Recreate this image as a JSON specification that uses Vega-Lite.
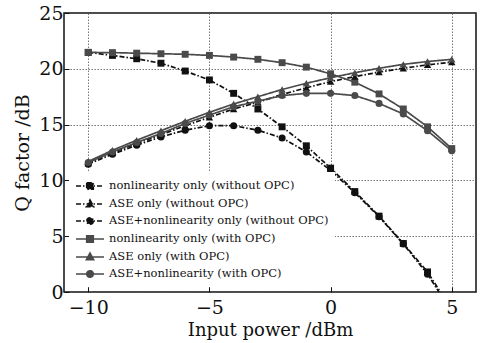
{
  "$schema": "https://vega.github.io/schema/vega-lite/v6.json",
  "autosize": "none",
  "width": 412,
  "height": 279,
  "padding": {"left": 64, "top": 13, "right": 9, "bottom": 51},
  "background": "white",
  "config": {
    "view": {"stroke": "#111", "strokeWidth": 1.5},
    "font": "DejaVu Serif",
    "axis": {
      "labelFont": "DejaVu Serif",
      "titleFont": "DejaVu Serif",
      "labelColor": "#111",
      "titleColor": "#111",
      "labelFontSize": 19,
      "titleFontSize": 18,
      "titleFontWeight": "normal",
      "domain": false,
      "tickColor": "#111",
      "tickSize": -5,
      "tickWidth": 1,
      "gridColor": "#555",
      "gridDash": [1.5, 1.5],
      "gridWidth": 0.8,
      "gridOpacity": 1
    }
  },
  "data": {
    "values": [
      {"x": -10, "q": 21.47, "series": "nonlinearity only (without OPC)"},
      {"x": -9, "q": 21.2, "series": "nonlinearity only (without OPC)"},
      {"x": -8, "q": 20.9, "series": "nonlinearity only (without OPC)"},
      {"x": -7, "q": 20.5, "series": "nonlinearity only (without OPC)"},
      {"x": -6, "q": 19.8, "series": "nonlinearity only (without OPC)"},
      {"x": -5, "q": 19.0, "series": "nonlinearity only (without OPC)"},
      {"x": -4, "q": 17.8, "series": "nonlinearity only (without OPC)"},
      {"x": -3, "q": 16.4, "series": "nonlinearity only (without OPC)"},
      {"x": -2, "q": 14.8, "series": "nonlinearity only (without OPC)"},
      {"x": -1, "q": 13.1, "series": "nonlinearity only (without OPC)"},
      {"x": 0, "q": 11.1, "series": "nonlinearity only (without OPC)"},
      {"x": 1, "q": 9.0, "series": "nonlinearity only (without OPC)"},
      {"x": 2, "q": 6.8, "series": "nonlinearity only (without OPC)"},
      {"x": 3, "q": 4.35, "series": "nonlinearity only (without OPC)"},
      {"x": 4, "q": 1.8, "series": "nonlinearity only (without OPC)"},
      {"x": 5, "q": -1.6, "series": "nonlinearity only (without OPC)"},

      {"x": -10, "q": 11.56, "series": "ASE only (without OPC)"},
      {"x": -9, "q": 12.5, "series": "ASE only (without OPC)"},
      {"x": -8, "q": 13.3, "series": "ASE only (without OPC)"},
      {"x": -7, "q": 14.1, "series": "ASE only (without OPC)"},
      {"x": -6, "q": 14.9, "series": "ASE only (without OPC)"},
      {"x": -5, "q": 15.65, "series": "ASE only (without OPC)"},
      {"x": -4, "q": 16.4, "series": "ASE only (without OPC)"},
      {"x": -3, "q": 17.0, "series": "ASE only (without OPC)"},
      {"x": -2, "q": 17.7, "series": "ASE only (without OPC)"},
      {"x": -1, "q": 18.3, "series": "ASE only (without OPC)"},
      {"x": 0, "q": 18.85, "series": "ASE only (without OPC)"},
      {"x": 1, "q": 19.3, "series": "ASE only (without OPC)"},
      {"x": 2, "q": 19.7, "series": "ASE only (without OPC)"},
      {"x": 3, "q": 20.05, "series": "ASE only (without OPC)"},
      {"x": 4, "q": 20.35, "series": "ASE only (without OPC)"},
      {"x": 5, "q": 20.6, "series": "ASE only (without OPC)"},

      {"x": -10, "q": 11.45, "series": "ASE+nonlinearity only (without OPC)"},
      {"x": -9, "q": 12.35, "series": "ASE+nonlinearity only (without OPC)"},
      {"x": -8, "q": 13.15, "series": "ASE+nonlinearity only (without OPC)"},
      {"x": -7, "q": 13.9, "series": "ASE+nonlinearity only (without OPC)"},
      {"x": -6, "q": 14.5, "series": "ASE+nonlinearity only (without OPC)"},
      {"x": -5, "q": 14.9, "series": "ASE+nonlinearity only (without OPC)"},
      {"x": -4, "q": 14.9, "series": "ASE+nonlinearity only (without OPC)"},
      {"x": -3, "q": 14.5, "series": "ASE+nonlinearity only (without OPC)"},
      {"x": -2, "q": 13.8, "series": "ASE+nonlinearity only (without OPC)"},
      {"x": -1, "q": 12.55, "series": "ASE+nonlinearity only (without OPC)"},
      {"x": 0, "q": 10.9, "series": "ASE+nonlinearity only (without OPC)"},
      {"x": 1, "q": 8.9, "series": "ASE+nonlinearity only (without OPC)"},
      {"x": 2, "q": 6.75, "series": "ASE+nonlinearity only (without OPC)"},
      {"x": 3, "q": 4.3, "series": "ASE+nonlinearity only (without OPC)"},
      {"x": 4, "q": 1.6, "series": "ASE+nonlinearity only (without OPC)"},
      {"x": 5, "q": -1.8, "series": "ASE+nonlinearity only (without OPC)"},

      {"x": -10, "q": 21.47, "series": "nonlinearity only (with OPC)"},
      {"x": -9, "q": 21.45, "series": "nonlinearity only (with OPC)"},
      {"x": -8, "q": 21.4, "series": "nonlinearity only (with OPC)"},
      {"x": -7, "q": 21.35, "series": "nonlinearity only (with OPC)"},
      {"x": -6, "q": 21.3, "series": "nonlinearity only (with OPC)"},
      {"x": -5, "q": 21.2, "series": "nonlinearity only (with OPC)"},
      {"x": -4, "q": 21.05, "series": "nonlinearity only (with OPC)"},
      {"x": -3, "q": 20.85, "series": "nonlinearity only (with OPC)"},
      {"x": -2, "q": 20.55, "series": "nonlinearity only (with OPC)"},
      {"x": -1, "q": 20.15, "series": "nonlinearity only (with OPC)"},
      {"x": 0, "q": 19.55, "series": "nonlinearity only (with OPC)"},
      {"x": 1, "q": 18.8, "series": "nonlinearity only (with OPC)"},
      {"x": 2, "q": 17.75, "series": "nonlinearity only (with OPC)"},
      {"x": 3, "q": 16.4, "series": "nonlinearity only (with OPC)"},
      {"x": 4, "q": 14.8, "series": "nonlinearity only (with OPC)"},
      {"x": 5, "q": 12.85, "series": "nonlinearity only (with OPC)"},

      {"x": -10, "q": 11.7, "series": "ASE only (with OPC)"},
      {"x": -9, "q": 12.7, "series": "ASE only (with OPC)"},
      {"x": -8, "q": 13.6, "series": "ASE only (with OPC)"},
      {"x": -7, "q": 14.45, "series": "ASE only (with OPC)"},
      {"x": -6, "q": 15.3, "series": "ASE only (with OPC)"},
      {"x": -5, "q": 16.1, "series": "ASE only (with OPC)"},
      {"x": -4, "q": 16.85, "series": "ASE only (with OPC)"},
      {"x": -3, "q": 17.5, "series": "ASE only (with OPC)"},
      {"x": -2, "q": 18.15, "series": "ASE only (with OPC)"},
      {"x": -1, "q": 18.7, "series": "ASE only (with OPC)"},
      {"x": 0, "q": 19.2, "series": "ASE only (with OPC)"},
      {"x": 1, "q": 19.65, "series": "ASE only (with OPC)"},
      {"x": 2, "q": 20.05, "series": "ASE only (with OPC)"},
      {"x": 3, "q": 20.4, "series": "ASE only (with OPC)"},
      {"x": 4, "q": 20.65, "series": "ASE only (with OPC)"},
      {"x": 5, "q": 20.85, "series": "ASE only (with OPC)"},

      {"x": -10, "q": 11.6, "series": "ASE+nonlinearity (with OPC)"},
      {"x": -9, "q": 12.55, "series": "ASE+nonlinearity (with OPC)"},
      {"x": -8, "q": 13.4, "series": "ASE+nonlinearity (with OPC)"},
      {"x": -7, "q": 14.2, "series": "ASE+nonlinearity (with OPC)"},
      {"x": -6, "q": 15.1, "series": "ASE+nonlinearity (with OPC)"},
      {"x": -5, "q": 15.85, "series": "ASE+nonlinearity (with OPC)"},
      {"x": -4, "q": 16.6, "series": "ASE+nonlinearity (with OPC)"},
      {"x": -3, "q": 17.1, "series": "ASE+nonlinearity (with OPC)"},
      {"x": -2, "q": 17.6, "series": "ASE+nonlinearity (with OPC)"},
      {"x": -1, "q": 17.8, "series": "ASE+nonlinearity (with OPC)"},
      {"x": 0, "q": 17.8, "series": "ASE+nonlinearity (with OPC)"},
      {"x": 1, "q": 17.6, "series": "ASE+nonlinearity (with OPC)"},
      {"x": 2, "q": 16.9, "series": "ASE+nonlinearity (with OPC)"},
      {"x": 3, "q": 15.95, "series": "ASE+nonlinearity (with OPC)"},
      {"x": 4, "q": 14.45, "series": "ASE+nonlinearity (with OPC)"},
      {"x": 5, "q": 12.65, "series": "ASE+nonlinearity (with OPC)"}
    ]
  },
  "encoding": {
    "x": {
      "field": "x",
      "type": "quantitative",
      "scale": {"domain": [-11, 6], "nice": false, "zero": false},
      "axis": {"values": [-10, -5, 0, 5], "title": "Input power /dBm", "titlePadding": 4, "labelPadding": 11}
    },
    "y": {
      "field": "q",
      "type": "quantitative",
      "scale": {"domain": [0, 25], "nice": false},
      "axis": {"values": [0, 5, 10, 15, 20, 25], "title": "Q factor /dB", "titleFontSize": 19, "titlePadding": 6, "labelPadding": 6}
    },
    "color": {
      "field": "series",
      "type": "nominal",
      "scale": {
        "domain": [
          "nonlinearity only (without OPC)",
          "ASE only (without OPC)",
          "ASE+nonlinearity only (without OPC)",
          "nonlinearity only (with OPC)",
          "ASE only (with OPC)",
          "ASE+nonlinearity (with OPC)"
        ],
        "range": ["#111111", "#111111", "#111111", "#4a4a4a", "#4a4a4a", "#4a4a4a"]
      },
      "legend": {
        "title": null,
        "orient": "bottom-left",
        "offset": 5,
        "padding": 6,
        "fillColor": "white",
        "labelFont": "DejaVu Serif",
        "labelFontSize": 11.5,
        "labelColor": "#111",
        "labelLimit": 0,
        "labelOffset": 18,
        "rowPadding": 3,
        "symbolSize": 196,
        "symbolStrokeWidth": 1.6,
        "encode": {
          "symbols": {
            "update": {
              "shape": {"signal": "['M-1,0H3M0.53,-0.47H1.47V0.47H0.53Z','M-1,0H3M1,-0.57L1.52,0.38L0.48,0.38Z','M-1,0H3M1.47,0A0.47,0.47 0 1,1 0.53,0A0.47,0.47 0 1,1 1.47,0Z','M-1,0H3M0.53,-0.47H1.47V0.47H0.53Z','M-1,0H3M1,-0.57L1.52,0.38L0.48,0.38Z','M-1,0H3M1.47,0A0.47,0.47 0 1,1 0.53,0A0.47,0.47 0 1,1 1.47,0Z'][datum.index]"},
              "fill": {"signal": "datum.index < 3 ? '#111111' : '#4a4a4a'"},
              "stroke": {"signal": "datum.index < 3 ? '#111111' : '#4a4a4a'"},
              "strokeDash": {"signal": "datum.index < 3 ? [5, 2, 1.5, 2] : []"},
              "opacity": {"value": 1}
            }
          }
        }
      }
    }
  },
  "layer": [
    {
      "mark": {"type": "line", "clip": true, "strokeWidth": 1.7},
      "encoding": {
        "strokeDash": {
          "field": "series",
          "type": "nominal",
          "scale": {
            "domain": [
              "nonlinearity only (without OPC)",
              "ASE only (without OPC)",
              "ASE+nonlinearity only (without OPC)",
              "nonlinearity only (with OPC)",
              "ASE only (with OPC)",
              "ASE+nonlinearity (with OPC)"
            ],
            "range": [[5, 2, 1.5, 2], [5, 2, 1.5, 2], [5, 2, 1.5, 2], [1, 0], [1, 0], [1, 0]]
          },
          "legend": null
        }
      }
    },
    {
      "transform": [{"filter": {"field": "series", "oneOf": ["nonlinearity only (without OPC)", "nonlinearity only (with OPC)"]}}],
      "mark": {"type": "point", "shape": "square", "filled": true, "clip": true, "opacity": 1, "size": 48}
    },
    {
      "transform": [{"filter": {"field": "series", "oneOf": ["ASE only (without OPC)", "ASE only (with OPC)"]}}],
      "mark": {"type": "point", "shape": "triangle-up", "filled": true, "clip": true, "opacity": 1, "size": 55}
    },
    {
      "transform": [{"filter": {"field": "series", "oneOf": ["ASE+nonlinearity only (without OPC)", "ASE+nonlinearity (with OPC)"]}}],
      "mark": {"type": "point", "shape": "circle", "filled": true, "clip": true, "opacity": 1, "size": 50}
    }
  ]
}
